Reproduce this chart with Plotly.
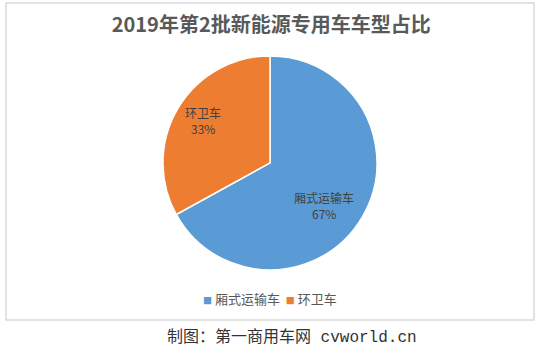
import plotly.graph_objects as go

categories = ["厢式运输车", "环卫车"]
shares = [67, 33]
colors = ["#5B9BD5", "#ED7D31"]
title_text = "2019年第2批新能源专用车车型占比"
footer_text = "制图：第一商用车网 cvworld.cn"
# data-label anchor positions (paper fractions), as placed in the reference
label_x = [0.602, 0.373]
label_y = [0.360, 0.628]

fig = go.Figure(go.Pie(
    labels=categories,
    values=shares,
    sort=False,
    direction="clockwise",
    rotation=0,
    marker=dict(colors=colors, line=dict(color="white", width=1.5)),
    textinfo="none",
    hoverinfo="label+percent",
    showlegend=False,
    domain=dict(x=[0, 1], y=[0.158, 0.833]),
))

total = sum(shares)
annotations = []
for name, v, lx, ly in zip(categories, shares, label_x, label_y):
    annotations.append(dict(
        text=name, xref="paper", yref="paper", x=lx, y=ly, yshift=8,
        xanchor="center", yanchor="middle", showarrow=False,
        font=dict(family="Noto Sans CJK SC", size=12, color="#404040")))
    annotations.append(dict(
        text=f"{round(100 * v / total)}%", xref="paper", yref="paper", x=lx, y=ly, yshift=-8,
        xanchor="center", yanchor="middle", showarrow=False,
        font=dict(family="Noto Sans CJK SC", size=12, color="#404040")))

# legend row (small coloured squares followed by category names)
legend_parts = []
for name, c in zip(categories, colors):
    legend_parts.append(f'<span style="color:{c};font-size:9px">■</span> {name}')
annotations.append(dict(
    text="  ".join(legend_parts), xref="paper", yref="paper", x=0.5, y=0.069,
    xanchor="center", yanchor="middle", showarrow=False,
    font=dict(family="Noto Sans CJK SC", size=13, color="#595959")))

annotations.append(dict(
    text=footer_text, xref="paper", yref="paper", x=0.542, y=-0.054,
    xanchor="center", yanchor="middle", showarrow=False,
    font=dict(family="Liberation Mono, Noto Sans CJK SC", size=16, color="#333333")))

fig.update_layout(
    width=549, height=355,
    margin=dict(l=6, r=15, t=3, b=35),
    paper_bgcolor="white",
    plot_bgcolor="white",
    showlegend=False,
    title=dict(text="<b>" + title_text + "</b>", x=0.494, xanchor="center",
               y=0.93, yanchor="middle",
               font=dict(family="Noto Sans CJK SC", size=20, color="#595959")),
    shapes=[dict(type="rect", xref="paper", yref="paper", x0=0, x1=1, y0=0, y1=1,
                 line=dict(color="#D9D9D9", width=1.5), fillcolor="rgba(0,0,0,0)")],
    annotations=annotations,
)

fig.write_html("out.html", config={"displayModeBar": False},
               post_script="document.body.style.margin='0';")
